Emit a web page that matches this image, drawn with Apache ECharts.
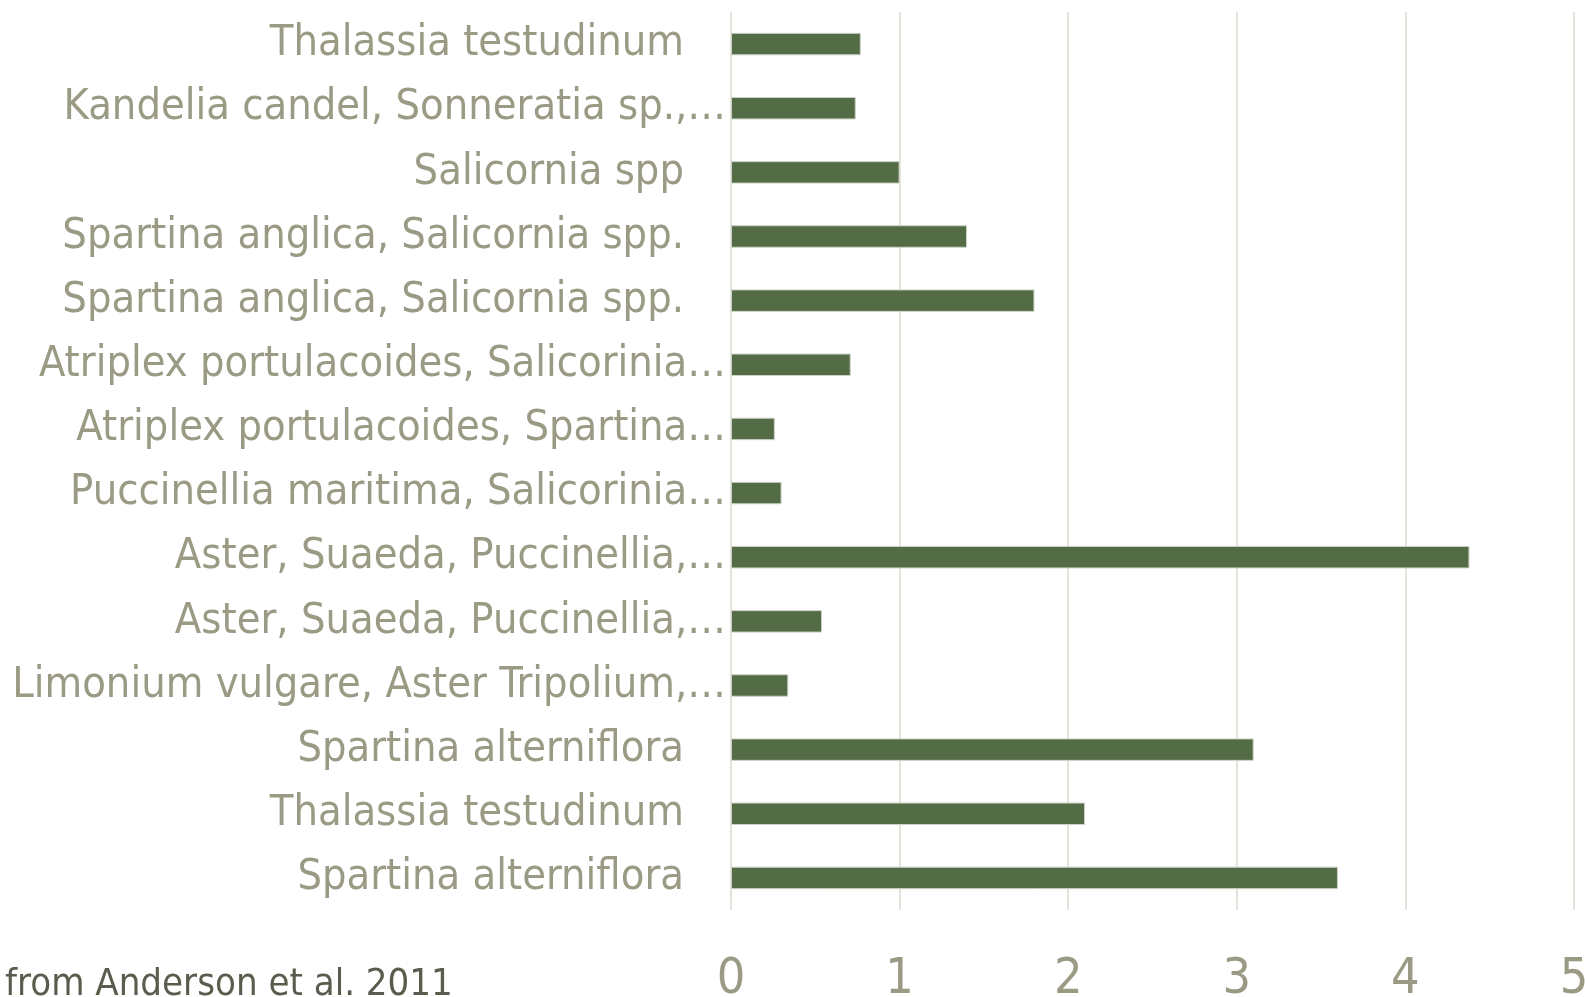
<!DOCTYPE html>
<html>
<head>
<meta charset="utf-8">
<script src="https://cdn.jsdelivr.net/npm/echarts@6/dist/echarts.min.js"></script>
<style>
html,body{margin:0;padding:0;background:#fff;}
#c{width:1585px;height:997px;}
</style>
</head>
<body>
<div id="c"></div>
<script>
// Categories listed from top to bottom as in the picture
const categoriesTopDown = [
  "Thalassia testudinum",
  "Kandelia candel, Sonneratia sp.,…",
  "Salicornia spp",
  "Spartina anglica, Salicornia spp.",
  "Spartina anglica, Salicornia spp.",
  "Atriplex portulacoides, Salicorinia…",
  "Atriplex portulacoides, Spartina…",
  "Puccinellia maritima, Salicorinia…",
  "Aster, Suaeda, Puccinellia,…",
  "Aster, Suaeda, Puccinellia,…",
  "Limonium vulgare, Aster Tripolium,…",
  "Spartina alterniflora",
  "Thalassia testudinum",
  "Spartina alterniflora"
];
const valuesTopDown = [0.77, 0.74, 1.0, 1.40, 1.80, 0.71, 0.26, 0.30, 4.38, 0.54, 0.34, 3.10, 2.10, 3.60];
const xTicks = [0, 1, 2, 3, 4, 5];
const sourceNote = "from Anderson et al. 2011";

const cats = categoriesTopDown.slice().reverse();
const vals = valuesTopDown.slice().reverse();

const chart = echarts.init(document.getElementById('c'));
const FONT = '"Liberation Sans Narrow", "DejaVu Sans Condensed", sans-serif';
chart.setOption({
  animation: false,
  backgroundColor: '#ffffff',
  grid: { left: 731, right: 11, top: 12, bottom: 87, containLabel: false, outerBoundsMode: 'none' },
  xAxis: {
    type: 'value',
    min: xTicks[0],
    max: xTicks[xTicks.length - 1],
    interval: 1,
    axisLine: { show: false },
    axisTick: { show: false },
    splitLine: { show: true, lineStyle: { color: '#e3e3dc', width: 2 } },
    axisLabel: { color: '#9b9b85', fontFamily: FONT, fontSize: 50, margin: 45 }
  },
  yAxis: {
    type: 'category',
    data: cats,
    axisLine: { show: false },
    axisTick: { show: false },
    splitLine: { show: false },
    axisLabel: {
      interval: 0,
      margin: 5,
      color: '#9b9b85',
      fontFamily: FONT,
      fontSize: 43,
      formatter: function (v) {
        return v.endsWith('…') ? '{n|' + v + '}' : '{n|' + v + '}{g|}';
      },
      rich: {
        n: { color: '#9b9b85', fontFamily: FONT, fontSize: 43 },
        g: { width: 42, height: 10 }
      }
    }
  },
  series: [{
    type: 'bar',
    data: vals,
    barWidth: '35%',
    itemStyle: { color: '#536c45', borderColor: '#cdd3c6', borderWidth: 1 }
  }],
  graphic: [{
    type: 'text',
    left: 5,
    top: 966,
    style: { text: sourceNote, fill: '#5c5c4e', font: '38px ' + FONT }
  }]
});
</script>
</body>
</html>
